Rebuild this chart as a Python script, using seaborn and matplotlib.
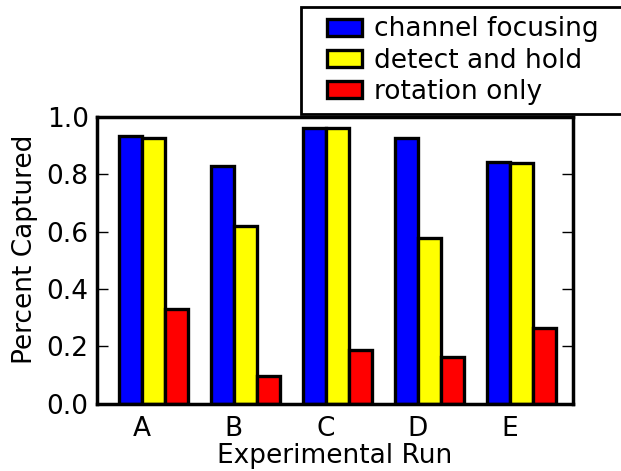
import numpy as np
import pandas as pd
import matplotlib
matplotlib.use("Agg")
import matplotlib.pyplot as plt
from matplotlib.patches import Rectangle
from matplotlib.legend_handler import HandlerPatch
import seaborn as sns

runs = ["A", "B", "C", "D", "E"]
series = ["channel focusing", "detect and hold", "rotation only"]
channel_focusing = [0.935, 0.828, 0.963, 0.926, 0.843]
detect_and_hold = [0.928, 0.621, 0.962, 0.577, 0.839]
rotation_only = [0.329, 0.096, 0.187, 0.161, 0.264]
colors = ["#0000ff", "#ffff00", "#ff0000"]

df = pd.DataFrame({
    "run": runs * 3,
    "method": [s for s in series for _ in runs],
    "value": channel_focusing + detect_and_hold + rotation_only,
})

sns.set_style("white")
plt.rcParams["font.family"] = ["DejaVu Sans"]
for key in ["text.color", "axes.labelcolor", "xtick.color", "ytick.color"]:
    plt.rcParams[key] = "black"

fs = 19

fig = plt.figure(figsize=(6.21, 4.71), dpi=100)
ax = fig.add_axes([97 / 621, 1 - 403.5 / 471, (573 - 97) / 621, (403.5 - 117) / 471])

sns.barplot(data=df, x="run", y="value", hue="method", order=runs, hue_order=series,
            palette=colors, saturation=1, width=0.75, edgecolor="black", linewidth=2.4,
            ax=ax, legend=True)

ax.set_xlim(-0.611, 4.563)
ax.set_ylim(0, 1.0)
ax.set_xticks(np.arange(len(runs)) - 0.125)
ax.set_xticklabels(runs)
ax.set_yticks([0.0, 0.2, 0.4, 0.6, 0.8, 1.0])
ax.set_yticklabels(["0.0", "0.2", "0.4", "0.6", "0.8", "1.0"])
ax.tick_params(axis="x", length=0, labelsize=fs, pad=9)
ax.tick_params(axis="y", direction="in", length=8, width=1, left=True, right=True,
               labelsize=fs, pad=6)
ax.set_xlabel("Experimental Run", fontsize=fs, labelpad=1)
ax.set_ylabel("Percent Captured", fontsize=fs, labelpad=6)
ax.yaxis.label.set_y(0.539)
for sp in ax.spines.values():
    sp.set_visible(True)
    sp.set_linewidth(2.5)
    sp.set_color("black")


def offset_rect(legend, orig_handle, xdescent, ydescent, width, height, fontsize):
    w, h = 25.2, 12.2
    return Rectangle((-xdescent + width - w, -ydescent + (height - h) / 2), w, h)


handles, labels = ax.get_legend_handles_labels()
ax.get_legend().remove()
leg = fig.legend(handles, labels, loc="upper left", mode="expand",
                 bbox_to_anchor=(301 / 621, 0, 345 / 621, 1 - 7 / 471),
                 bbox_transform=fig.transFigure,
                 fontsize=fs, frameon=True, fancybox=False, shadow=False,
                 borderpad=0.35, labelspacing=0.2, handlelength=1.96, handleheight=0.8,
                 handletextpad=0.45, borderaxespad=0,
                 handler_map={h: HandlerPatch(patch_func=offset_rect) for h in handles})
leg.get_frame().set_edgecolor("black")
leg.get_frame().set_linewidth(2)
leg.get_frame().set_alpha(1)

fig.savefig("out.png", dpi=100)
